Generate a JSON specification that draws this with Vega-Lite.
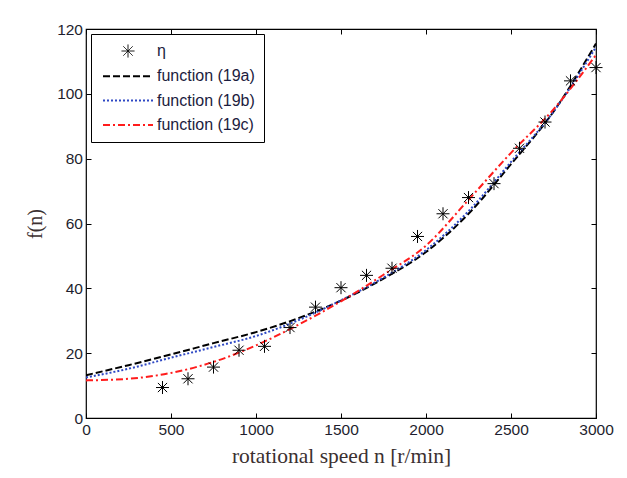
{
  "$schema": "https://vega.github.io/schema/vega-lite/v6.json",
  "width": 510,
  "height": 389,
  "autosize": {"type": "none"},
  "padding": {"left": 86, "top": 29, "right": 31, "bottom": 60},
  "background": "white",
  "config": {
    "view": {"stroke": "#000", "strokeWidth": 1.2},
    "font": "Liberation Sans",
    "legend": {
      "orient": "top-left",
      "offset": 5,
      "padding": 9,
      "strokeColor": "#000",
      "fillColor": "white",
      "labelFont": "Liberation Sans",
      "labelFontSize": 16,
      "labelColor": "#1c1c40",
      "symbolSize": 100,
      "symbolOffset": 20,
      "labelOffset": 21,
      "rowPadding": 8.3,
      "symbolStrokeWidth": 2
    }
  },
  "datasets": {
    "curves": [
      {"n": 0, "f": 13.2, "series": "function (19a)"},
      {"n": 250, "f": 16.3, "series": "function (19a)"},
      {"n": 500, "f": 19.6, "series": "function (19a)"},
      {"n": 750, "f": 23.1, "series": "function (19a)"},
      {"n": 1000, "f": 26.5, "series": "function (19a)"},
      {"n": 1250, "f": 30.8, "series": "function (19a)"},
      {"n": 1500, "f": 36.2, "series": "function (19a)"},
      {"n": 1750, "f": 43.0, "series": "function (19a)"},
      {"n": 2000, "f": 51.2, "series": "function (19a)"},
      {"n": 2250, "f": 63.0, "series": "function (19a)"},
      {"n": 2500, "f": 78.3, "series": "function (19a)"},
      {"n": 2750, "f": 94.5, "series": "function (19a)"},
      {"n": 3000, "f": 115.5, "series": "function (19a)"},
      {"n": 0, "f": 12.5, "series": "function (19b)"},
      {"n": 250, "f": 15.2, "series": "function (19b)"},
      {"n": 500, "f": 18.6, "series": "function (19b)"},
      {"n": 750, "f": 21.9, "series": "function (19b)"},
      {"n": 1000, "f": 25.3, "series": "function (19b)"},
      {"n": 1250, "f": 30.2, "series": "function (19b)"},
      {"n": 1500, "f": 36.3, "series": "function (19b)"},
      {"n": 1750, "f": 43.3, "series": "function (19b)"},
      {"n": 2000, "f": 51.8, "series": "function (19b)"},
      {"n": 2250, "f": 63.8, "series": "function (19b)"},
      {"n": 2500, "f": 79.0, "series": "function (19b)"},
      {"n": 2750, "f": 94.5, "series": "function (19b)"},
      {"n": 3000, "f": 114.4, "series": "function (19b)"},
      {"n": 0, "f": 11.6, "series": "function (19c)"},
      {"n": 250, "f": 12.1, "series": "function (19c)"},
      {"n": 500, "f": 13.9, "series": "function (19c)"},
      {"n": 750, "f": 17.3, "series": "function (19c)"},
      {"n": 1000, "f": 22.4, "series": "function (19c)"},
      {"n": 1250, "f": 28.8, "series": "function (19c)"},
      {"n": 1500, "f": 36.0, "series": "function (19c)"},
      {"n": 1750, "f": 44.2, "series": "function (19c)"},
      {"n": 2000, "f": 53.2, "series": "function (19c)"},
      {"n": 2250, "f": 67.3, "series": "function (19c)"},
      {"n": 2500, "f": 81.8, "series": "function (19c)"},
      {"n": 2750, "f": 95.2, "series": "function (19c)"},
      {"n": 3000, "f": 112.0, "series": "function (19c)"}
    ],
    "points": [
      {"n": 450, "f": 9.4, "series": "η"},
      {"n": 600, "f": 12.1, "series": "η"},
      {"n": 750, "f": 15.7, "series": "η"},
      {"n": 900, "f": 20.9, "series": "η"},
      {"n": 1050, "f": 22.1, "series": "η"},
      {"n": 1200, "f": 27.9, "series": "η"},
      {"n": 1350, "f": 34.2, "series": "η"},
      {"n": 1500, "f": 40.2, "series": "η"},
      {"n": 1650, "f": 44.0, "series": "η"},
      {"n": 1800, "f": 46.2, "series": "η"},
      {"n": 1950, "f": 56.0, "series": "η"},
      {"n": 2100, "f": 63.0, "series": "η"},
      {"n": 2250, "f": 68.0, "series": "η"},
      {"n": 2400, "f": 72.3, "series": "η"},
      {"n": 2550, "f": 83.2, "series": "η"},
      {"n": 2700, "f": 91.3, "series": "η"},
      {"n": 2850, "f": 104.0, "series": "η"},
      {"n": 3000, "f": 108.1, "series": "η"}
    ]
  },
  "layer": [
    {
      "data": {"name": "curves"},
      "mark": {"type": "line", "strokeWidth": 2, "interpolate": "monotone", "clip": true},
      "encoding": {
        "x": {
          "field": "n", "type": "quantitative",
          "scale": {"domain": [0, 3000], "nice": false},
          "axis": {
            "orient": "bottom", "values": [0, 500, 1000, 1500, 2000, 2500, 3000], "format": "d",
            "grid": false, "domain": false, "tickSize": -5, "tickColor": "#000",
            "labelFont": "Liberation Sans", "labelFontSize": 15.5, "labelColor": "#1e1e2e",
            "labelPadding": 9.5, "labelFlush": false,
            "title": "rotational speed n [r/min]", "titleFont": "Liberation Serif",
            "titleFontSize": 21.5, "titleFontWeight": "normal", "titleColor": "#3b3030", "titlePadding": 7
          }
        },
        "y": {
          "field": "f", "type": "quantitative",
          "scale": {"domain": [0, 120], "nice": false},
          "axis": {
            "orient": "left", "values": [0, 20, 40, 60, 80, 100, 120], "format": "d",
            "grid": false, "domain": false, "tickSize": -5, "tickColor": "#000",
            "labelFont": "Liberation Sans", "labelFontSize": 15.5, "labelColor": "#1e1e2e",
            "labelPadding": 8.5, "labelFlush": false,
            "title": "f(n)", "titleFont": "Liberation Serif",
            "titleFontSize": 20, "titleFontWeight": "normal", "titleColor": "#3b3030", "titlePadding": 11
          }
        },
        "color": {
          "field": "series", "type": "nominal",
          "scale": {"domain": ["η", "function (19a)", "function (19b)", "function (19c)"], "range": ["#000000", "#000000", "#2e48c4", "#ff1c1c"]},
          "legend": {"title": null, "encode": {"symbols": {"update": {"fill": {"value": "transparent"}, "strokeWidth": {"signal": "datum.value === 'η' ? 1 : 2"}}}}}
        },
        "strokeDash": {
          "field": "series", "type": "nominal",
          "scale": {"domain": ["η", "function (19a)", "function (19b)", "function (19c)"], "range": [[1, 0], [7, 3], [2, 2], [7, 3, 2, 3]]},
          "legend": {"title": null, "encode": {"symbols": {"update": {"fill": {"value": "transparent"}, "strokeWidth": {"signal": "datum.value === 'η' ? 1 : 2"}}}}}
        }
      }
    },
    {
      "data": {"name": "points"},
      "mark": {"type": "point", "filled": false, "size": 100, "strokeWidth": 1, "opacity": 1},
      "encoding": {
        "x": {"field": "n", "type": "quantitative", "axis": null},
        "y": {"field": "f", "type": "quantitative", "axis": null},
        "color": {"field": "series", "type": "nominal", "legend": {"title": null, "encode": {"symbols": {"update": {"fill": {"value": "transparent"}, "strokeWidth": {"signal": "datum.value === 'η' ? 1 : 2"}}}}}},
        "shape": {
          "field": "series", "type": "nominal",
          "scale": {"domain": ["η", "function (19a)", "function (19b)", "function (19c)"], "range": ["M0,-1.3V1.3M-1.3,0H1.3M-0.92,-0.92L0.92,0.92M-0.92,0.92L0.92,-0.92", "M-5,0H5", "M-5,0H5", "M-5,0H5"]},
          "legend": {"title": null, "encode": {"symbols": {"update": {"fill": {"value": "transparent"}, "strokeWidth": {"signal": "datum.value === 'η' ? 1 : 2"}}}}}
        }
      }
    },
    {
      "data": {"name": "points"},
      "mark": {"type": "point", "opacity": 0},
      "encoding": {
        "x": {"field": "n", "type": "quantitative", "axis": {"orient": "top", "values": [0, 500, 1000, 1500, 2000, 2500, 3000], "labels": false, "title": null, "grid": false, "domain": false, "tickSize": -5, "tickColor": "#000"}},
        "y": {"field": "f", "type": "quantitative", "axis": {"orient": "right", "values": [0, 20, 40, 60, 80, 100, 120], "labels": false, "title": null, "grid": false, "domain": false, "tickSize": -5, "tickColor": "#000"}}
      }
    }
  ],
  "resolve": {"axis": {"x": "independent", "y": "independent"}}
}
